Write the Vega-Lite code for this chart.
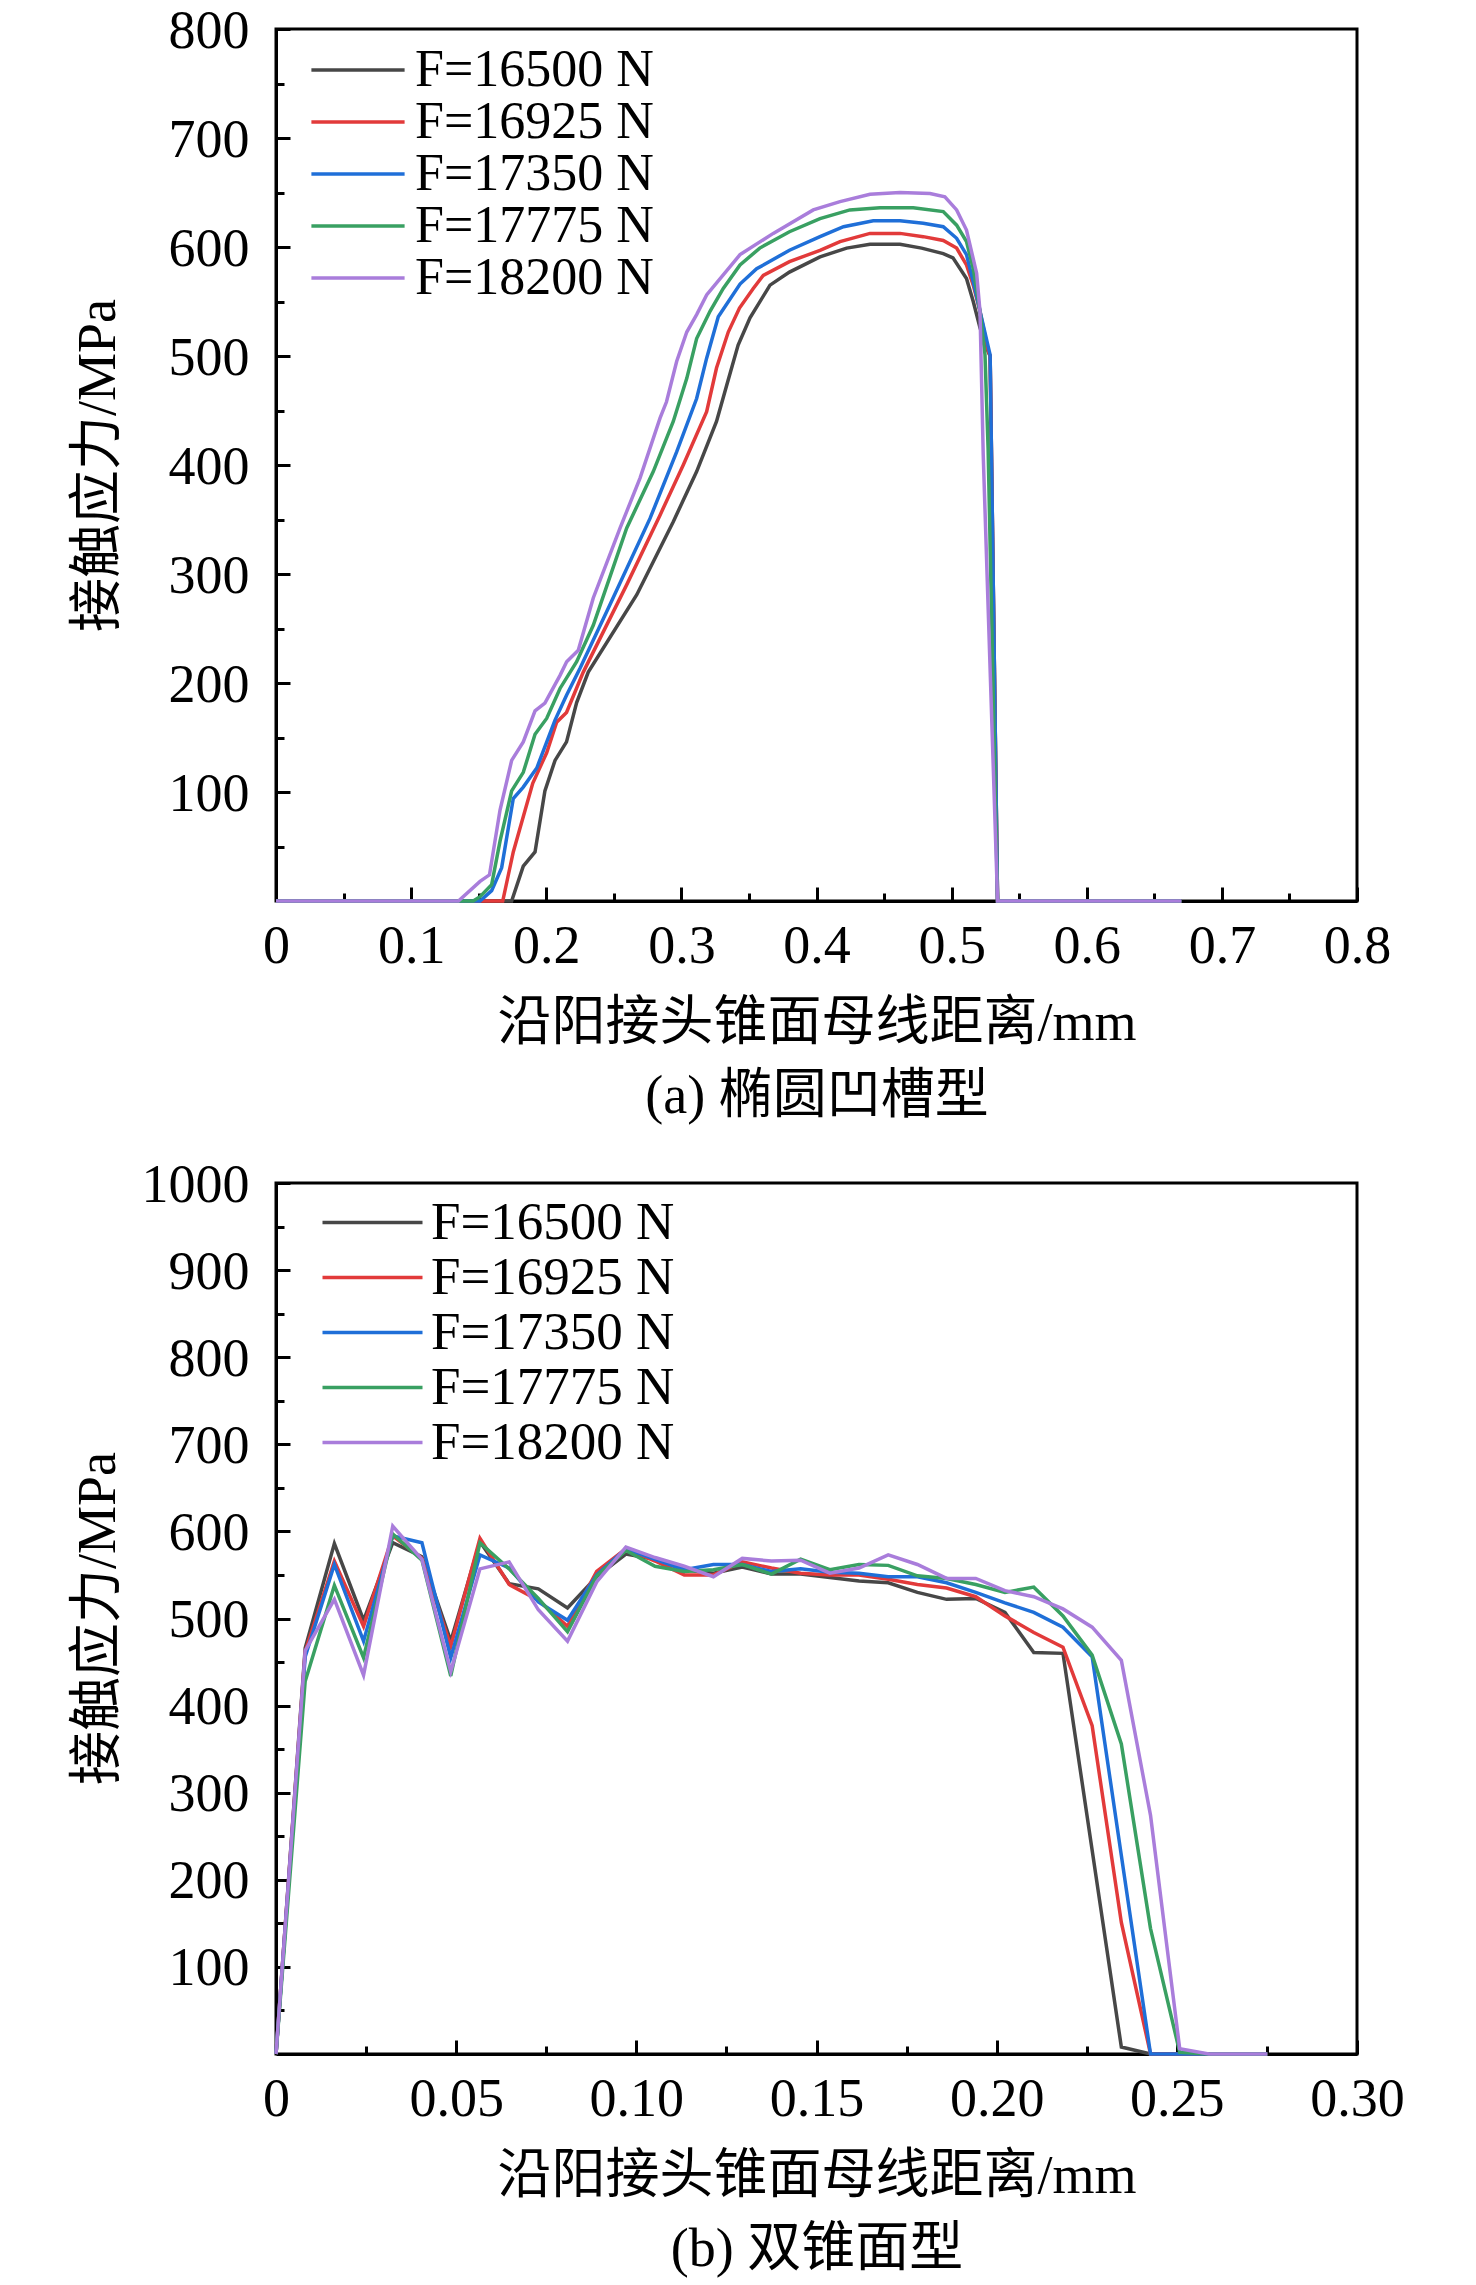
{
  "$schema": "https://vega.github.io/schema/vega-lite/v6.json",
  "padding": {"left": 69, "top": 2, "right": 20, "bottom": 0},
  "background": "white",
  "spacing": 31,
  "config": {
    "font": "Liberation Serif, Noto Sans CJK SC, serif",
    "view": {"stroke": "black", "strokeWidth": 3},
    "axis": {
      "domainColor": "black", "domainWidth": 3,
      "tickColor": "black", "tickWidth": 3,
      "grid": false,
      "labelFont": "Liberation Serif", "labelFontSize": 54, "labelColor": "black",
      "titleFont": "Liberation Serif, Noto Sans CJK SC", "titleFontSize": 54, "titleFontWeight": "normal", "titleColor": "black"
    },
    "legend": {
      "labelFont": "Liberation Serif", "labelFontSize": 54, "labelColor": "black", "labelLimit": 0, "labelOffset": 31,
      "symbolType": "M-2.33,0H2.33", "symbolStrokeWidth": 3.5, "symbolSize": 1600,
      "title": null, "padding": 0, "rowPadding": 0
    }
  },
  "datasets": {
    "a": [
      {"s":"F=16500 N","x":0,"y":0},{"s":"F=16500 N","x":0.1744,"y":0},{"s":"F=16500 N","x":0.183,"y":32},{"s":"F=16500 N","x":0.1917,"y":45},{"s":"F=16500 N","x":0.199,"y":101},{"s":"F=16500 N","x":0.2065,"y":129},{"s":"F=16500 N","x":0.215,"y":146},{"s":"F=16500 N","x":0.2225,"y":182},{"s":"F=16500 N","x":0.2311,"y":210},{"s":"F=16500 N","x":0.267,"y":281},{"s":"F=16500 N","x":0.294,"y":348},{"s":"F=16500 N","x":0.3113,"y":394},{"s":"F=16500 N","x":0.326,"y":440},{"s":"F=16500 N","x":0.3335,"y":473},{"s":"F=16500 N","x":0.342,"y":510},{"s":"F=16500 N","x":0.3508,"y":535},{"s":"F=16500 N","x":0.3656,"y":565},{"s":"F=16500 N","x":0.38,"y":577},{"s":"F=16500 N","x":0.4026,"y":591},{"s":"F=16500 N","x":0.4223,"y":599},{"s":"F=16500 N","x":0.4396,"y":602.5},{"s":"F=16500 N","x":0.4618,"y":602.5},{"s":"F=16500 N","x":0.4778,"y":599},{"s":"F=16500 N","x":0.4938,"y":594},{"s":"F=16500 N","x":0.501,"y":590},{"s":"F=16500 N","x":0.511,"y":571},{"s":"F=16500 N","x":0.516,"y":550},{"s":"F=16500 N","x":0.521,"y":526},{"s":"F=16500 N","x":0.527,"y":504},{"s":"F=16500 N","x":0.5285,"y":500},{"s":"F=16500 N","x":0.534,"y":0},{"s":"F=16500 N","x":0.67,"y":0},
      {"s":"F=16925 N","x":0,"y":0},{"s":"F=16925 N","x":0.1678,"y":0},{"s":"F=16925 N","x":0.1756,"y":45},{"s":"F=16925 N","x":0.19,"y":108},{"s":"F=16925 N","x":0.2003,"y":136},{"s":"F=16925 N","x":0.2077,"y":164},{"s":"F=16925 N","x":0.215,"y":173},{"s":"F=16925 N","x":0.2274,"y":210},{"s":"F=16925 N","x":0.2595,"y":290},{"s":"F=16925 N","x":0.2842,"y":354},{"s":"F=16925 N","x":0.3014,"y":400},{"s":"F=16925 N","x":0.3187,"y":449},{"s":"F=16925 N","x":0.326,"y":489},{"s":"F=16925 N","x":0.3347,"y":522},{"s":"F=16925 N","x":0.343,"y":544},{"s":"F=16925 N","x":0.3532,"y":562},{"s":"F=16925 N","x":0.3606,"y":574},{"s":"F=16925 N","x":0.38,"y":586.5},{"s":"F=16925 N","x":0.4026,"y":597},{"s":"F=16925 N","x":0.4174,"y":605},{"s":"F=16925 N","x":0.4396,"y":612.5},{"s":"F=16925 N","x":0.4618,"y":612.5},{"s":"F=16925 N","x":0.479,"y":609.5},{"s":"F=16925 N","x":0.4938,"y":606},{"s":"F=16925 N","x":0.5037,"y":599},{"s":"F=16925 N","x":0.511,"y":583.5},{"s":"F=16925 N","x":0.516,"y":565},{"s":"F=16925 N","x":0.521,"y":541},{"s":"F=16925 N","x":0.527,"y":505},{"s":"F=16925 N","x":0.5285,"y":500},{"s":"F=16925 N","x":0.534,"y":0},{"s":"F=16925 N","x":0.67,"y":0},
      {"s":"F=17350 N","x":0,"y":0},{"s":"F=17350 N","x":0.151,"y":0},{"s":"F=17350 N","x":0.1596,"y":9.5},{"s":"F=17350 N","x":0.167,"y":30.6},{"s":"F=17350 N","x":0.1756,"y":94},{"s":"F=17350 N","x":0.183,"y":104.5},{"s":"F=17350 N","x":0.193,"y":122},{"s":"F=17350 N","x":0.2065,"y":166},{"s":"F=17350 N","x":0.2151,"y":189},{"s":"F=17350 N","x":0.225,"y":213.5},{"s":"F=17350 N","x":0.2472,"y":272},{"s":"F=17350 N","x":0.2768,"y":351},{"s":"F=17350 N","x":0.2965,"y":412},{"s":"F=17350 N","x":0.3113,"y":461},{"s":"F=17350 N","x":0.3187,"y":498},{"s":"F=17350 N","x":0.3273,"y":536},{"s":"F=17350 N","x":0.3434,"y":566},{"s":"F=17350 N","x":0.3557,"y":580},{"s":"F=17350 N","x":0.38,"y":597},{"s":"F=17350 N","x":0.4026,"y":609.5},{"s":"F=17350 N","x":0.42,"y":618.6},{"s":"F=17350 N","x":0.442,"y":624},{"s":"F=17350 N","x":0.4618,"y":624},{"s":"F=17350 N","x":0.479,"y":621.7},{"s":"F=17350 N","x":0.4938,"y":618.6},{"s":"F=17350 N","x":0.5037,"y":608},{"s":"F=17350 N","x":0.511,"y":593},{"s":"F=17350 N","x":0.516,"y":568},{"s":"F=17350 N","x":0.5285,"y":501},{"s":"F=17350 N","x":0.534,"y":0},{"s":"F=17350 N","x":0.67,"y":0},
      {"s":"F=17775 N","x":0,"y":0},{"s":"F=17775 N","x":0.146,"y":0},{"s":"F=17775 N","x":0.151,"y":4},{"s":"F=17775 N","x":0.1596,"y":15},{"s":"F=17775 N","x":0.1658,"y":55},{"s":"F=17775 N","x":0.1744,"y":101},{"s":"F=17775 N","x":0.183,"y":118},{"s":"F=17775 N","x":0.1917,"y":153},{"s":"F=17775 N","x":0.2003,"y":167.5},{"s":"F=17775 N","x":0.2102,"y":195},{"s":"F=17775 N","x":0.2225,"y":219.5},{"s":"F=17775 N","x":0.2348,"y":253},{"s":"F=17775 N","x":0.2595,"y":342},{"s":"F=17775 N","x":0.2792,"y":394},{"s":"F=17775 N","x":0.294,"y":440},{"s":"F=17775 N","x":0.304,"y":479.5},{"s":"F=17775 N","x":0.3113,"y":516},{"s":"F=17775 N","x":0.3212,"y":541},{"s":"F=17775 N","x":0.331,"y":562},{"s":"F=17775 N","x":0.3434,"y":583.5},{"s":"F=17775 N","x":0.358,"y":599},{"s":"F=17775 N","x":0.38,"y":614},{"s":"F=17775 N","x":0.4026,"y":626},{"s":"F=17775 N","x":0.4247,"y":634},{"s":"F=17775 N","x":0.447,"y":636},{"s":"F=17775 N","x":0.4716,"y":636},{"s":"F=17775 N","x":0.4938,"y":632.5},{"s":"F=17775 N","x":0.5037,"y":620},{"s":"F=17775 N","x":0.511,"y":605},{"s":"F=17775 N","x":0.516,"y":580},{"s":"F=17775 N","x":0.521,"y":541},{"s":"F=17775 N","x":0.5247,"y":501},{"s":"F=17775 N","x":0.527,"y":415},{"s":"F=17775 N","x":0.534,"y":0},{"s":"F=17775 N","x":0.67,"y":0},
      {"s":"F=18200 N","x":0,"y":0},{"s":"F=18200 N","x":0.135,"y":0},{"s":"F=18200 N","x":0.151,"y":18},{"s":"F=18200 N","x":0.158,"y":24},{"s":"F=18200 N","x":0.1658,"y":83.5},{"s":"F=18200 N","x":0.1744,"y":129},{"s":"F=18200 N","x":0.183,"y":146},{"s":"F=18200 N","x":0.1917,"y":174.5},{"s":"F=18200 N","x":0.199,"y":181.6},{"s":"F=18200 N","x":0.2102,"y":207},{"s":"F=18200 N","x":0.2151,"y":219.5},{"s":"F=18200 N","x":0.2237,"y":230},{"s":"F=18200 N","x":0.2348,"y":278},{"s":"F=18200 N","x":0.2546,"y":342},{"s":"F=18200 N","x":0.2694,"y":388},{"s":"F=18200 N","x":0.2842,"y":443},{"s":"F=18200 N","x":0.289,"y":458},{"s":"F=18200 N","x":0.2965,"y":495},{"s":"F=18200 N","x":0.304,"y":522},{"s":"F=18200 N","x":0.3113,"y":538},{"s":"F=18200 N","x":0.3187,"y":556},{"s":"F=18200 N","x":0.3434,"y":593},{"s":"F=18200 N","x":0.368,"y":612.5},{"s":"F=18200 N","x":0.3976,"y":634},{"s":"F=18200 N","x":0.4174,"y":641.6},{"s":"F=18200 N","x":0.4396,"y":648.4},{"s":"F=18200 N","x":0.4618,"y":650},{"s":"F=18200 N","x":0.484,"y":649},{"s":"F=18200 N","x":0.495,"y":646},{"s":"F=18200 N","x":0.5037,"y":634},{"s":"F=18200 N","x":0.511,"y":615.6},{"s":"F=18200 N","x":0.5185,"y":576},{"s":"F=18200 N","x":0.521,"y":541},{"s":"F=18200 N","x":0.5234,"y":409},{"s":"F=18200 N","x":0.534,"y":0},{"s":"F=18200 N","x":0.67,"y":0}
    ],
    "b": [
      {"s":"F=16500 N","x":0,"y":0},{"s":"F=16500 N","x":0.0081,"y":466},{"s":"F=16500 N","x":0.0162,"y":586},{"s":"F=16500 N","x":0.0243,"y":498},{"s":"F=16500 N","x":0.0324,"y":587},{"s":"F=16500 N","x":0.0405,"y":571},{"s":"F=16500 N","x":0.0485,"y":474},{"s":"F=16500 N","x":0.0566,"y":588},{"s":"F=16500 N","x":0.0647,"y":540},{"s":"F=16500 N","x":0.0728,"y":534},{"s":"F=16500 N","x":0.0809,"y":512},{"s":"F=16500 N","x":0.089,"y":548},{"s":"F=16500 N","x":0.0971,"y":574},{"s":"F=16500 N","x":0.1052,"y":568},{"s":"F=16500 N","x":0.1133,"y":556},{"s":"F=16500 N","x":0.1214,"y":552},{"s":"F=16500 N","x":0.1294,"y":559},{"s":"F=16500 N","x":0.1375,"y":551},{"s":"F=16500 N","x":0.1456,"y":551},{"s":"F=16500 N","x":0.1537,"y":547},{"s":"F=16500 N","x":0.1618,"y":543},{"s":"F=16500 N","x":0.1699,"y":541},{"s":"F=16500 N","x":0.178,"y":530},{"s":"F=16500 N","x":0.1861,"y":522},{"s":"F=16500 N","x":0.1942,"y":523},{"s":"F=16500 N","x":0.2023,"y":507},{"s":"F=16500 N","x":0.2103,"y":461},{"s":"F=16500 N","x":0.2184,"y":460},{"s":"F=16500 N","x":0.2265,"y":234},{"s":"F=16500 N","x":0.2346,"y":8},{"s":"F=16500 N","x":0.2427,"y":0},{"s":"F=16500 N","x":0.2508,"y":0},{"s":"F=16500 N","x":0.2589,"y":0},{"s":"F=16500 N","x":0.267,"y":0},{"s":"F=16500 N","x":0.2751,"y":0},
      {"s":"F=16925 N","x":0,"y":0},{"s":"F=16925 N","x":0.0081,"y":462},{"s":"F=16925 N","x":0.0162,"y":566},{"s":"F=16925 N","x":0.0243,"y":491},{"s":"F=16925 N","x":0.0324,"y":595},{"s":"F=16925 N","x":0.0405,"y":569},{"s":"F=16925 N","x":0.0485,"y":468},{"s":"F=16925 N","x":0.0566,"y":592},{"s":"F=16925 N","x":0.0647,"y":539},{"s":"F=16925 N","x":0.0728,"y":521},{"s":"F=16925 N","x":0.0809,"y":491},{"s":"F=16925 N","x":0.089,"y":554},{"s":"F=16925 N","x":0.0971,"y":580},{"s":"F=16925 N","x":0.1052,"y":566},{"s":"F=16925 N","x":0.1133,"y":550},{"s":"F=16925 N","x":0.1214,"y":550},{"s":"F=16925 N","x":0.1294,"y":565},{"s":"F=16925 N","x":0.1375,"y":558},{"s":"F=16925 N","x":0.1456,"y":552},{"s":"F=16925 N","x":0.1537,"y":550},{"s":"F=16925 N","x":0.1618,"y":550},{"s":"F=16925 N","x":0.1699,"y":545},{"s":"F=16925 N","x":0.178,"y":539},{"s":"F=16925 N","x":0.1861,"y":535},{"s":"F=16925 N","x":0.1942,"y":525},{"s":"F=16925 N","x":0.2023,"y":503},{"s":"F=16925 N","x":0.2103,"y":484},{"s":"F=16925 N","x":0.2184,"y":467},{"s":"F=16925 N","x":0.2265,"y":377},{"s":"F=16925 N","x":0.2346,"y":151},{"s":"F=16925 N","x":0.2427,"y":0},{"s":"F=16925 N","x":0.2508,"y":0},{"s":"F=16925 N","x":0.2589,"y":0},{"s":"F=16925 N","x":0.267,"y":0},{"s":"F=16925 N","x":0.2751,"y":0},
      {"s":"F=17350 N","x":0,"y":0},{"s":"F=17350 N","x":0.0081,"y":456},{"s":"F=17350 N","x":0.0162,"y":562},{"s":"F=17350 N","x":0.0243,"y":474},{"s":"F=17350 N","x":0.0324,"y":595},{"s":"F=17350 N","x":0.0405,"y":587},{"s":"F=17350 N","x":0.0485,"y":455},{"s":"F=17350 N","x":0.0566,"y":573},{"s":"F=17350 N","x":0.0647,"y":558},{"s":"F=17350 N","x":0.0728,"y":519},{"s":"F=17350 N","x":0.0809,"y":498},{"s":"F=17350 N","x":0.089,"y":550},{"s":"F=17350 N","x":0.0971,"y":580},{"s":"F=17350 N","x":0.1052,"y":568},{"s":"F=17350 N","x":0.1133,"y":556},{"s":"F=17350 N","x":0.1214,"y":562},{"s":"F=17350 N","x":0.1294,"y":562},{"s":"F=17350 N","x":0.1375,"y":554},{"s":"F=17350 N","x":0.1456,"y":557},{"s":"F=17350 N","x":0.1537,"y":553},{"s":"F=17350 N","x":0.1618,"y":552},{"s":"F=17350 N","x":0.1699,"y":548},{"s":"F=17350 N","x":0.178,"y":548},{"s":"F=17350 N","x":0.1861,"y":541},{"s":"F=17350 N","x":0.1942,"y":530},{"s":"F=17350 N","x":0.2023,"y":518},{"s":"F=17350 N","x":0.2103,"y":507},{"s":"F=17350 N","x":0.2184,"y":490},{"s":"F=17350 N","x":0.2265,"y":456},{"s":"F=17350 N","x":0.2346,"y":228},{"s":"F=17350 N","x":0.2427,"y":0},{"s":"F=17350 N","x":0.2508,"y":0},{"s":"F=17350 N","x":0.2589,"y":0},{"s":"F=17350 N","x":0.267,"y":0},{"s":"F=17350 N","x":0.2751,"y":0},
      {"s":"F=17775 N","x":0,"y":0},{"s":"F=17775 N","x":0.0081,"y":428},{"s":"F=17775 N","x":0.0162,"y":538},{"s":"F=17775 N","x":0.0243,"y":455},{"s":"F=17775 N","x":0.0324,"y":597},{"s":"F=17775 N","x":0.0405,"y":567},{"s":"F=17775 N","x":0.0485,"y":434},{"s":"F=17775 N","x":0.0566,"y":587},{"s":"F=17775 N","x":0.0647,"y":557},{"s":"F=17775 N","x":0.0728,"y":523},{"s":"F=17775 N","x":0.0809,"y":485},{"s":"F=17775 N","x":0.089,"y":549},{"s":"F=17775 N","x":0.0971,"y":578},{"s":"F=17775 N","x":0.1052,"y":560},{"s":"F=17775 N","x":0.1133,"y":554},{"s":"F=17775 N","x":0.1214,"y":556},{"s":"F=17775 N","x":0.1294,"y":562},{"s":"F=17775 N","x":0.1375,"y":551},{"s":"F=17775 N","x":0.1456,"y":568},{"s":"F=17775 N","x":0.1537,"y":556},{"s":"F=17775 N","x":0.1618,"y":562},{"s":"F=17775 N","x":0.1699,"y":561},{"s":"F=17775 N","x":0.178,"y":549},{"s":"F=17775 N","x":0.1861,"y":546},{"s":"F=17775 N","x":0.1942,"y":539},{"s":"F=17775 N","x":0.2023,"y":530},{"s":"F=17775 N","x":0.2103,"y":536},{"s":"F=17775 N","x":0.2184,"y":503},{"s":"F=17775 N","x":0.2265,"y":458},{"s":"F=17775 N","x":0.2346,"y":356},{"s":"F=17775 N","x":0.2427,"y":144},{"s":"F=17775 N","x":0.2508,"y":2},{"s":"F=17775 N","x":0.2589,"y":0},{"s":"F=17775 N","x":0.267,"y":0},{"s":"F=17775 N","x":0.2751,"y":0},
      {"s":"F=18200 N","x":0,"y":0},{"s":"F=18200 N","x":0.0081,"y":463},{"s":"F=18200 N","x":0.0162,"y":522},{"s":"F=18200 N","x":0.0243,"y":435},{"s":"F=18200 N","x":0.0324,"y":606},{"s":"F=18200 N","x":0.0405,"y":568},{"s":"F=18200 N","x":0.0485,"y":439},{"s":"F=18200 N","x":0.0566,"y":557},{"s":"F=18200 N","x":0.0647,"y":565},{"s":"F=18200 N","x":0.0728,"y":510},{"s":"F=18200 N","x":0.0809,"y":474},{"s":"F=18200 N","x":0.089,"y":542},{"s":"F=18200 N","x":0.0971,"y":582},{"s":"F=18200 N","x":0.1052,"y":570},{"s":"F=18200 N","x":0.1133,"y":560},{"s":"F=18200 N","x":0.1214,"y":548},{"s":"F=18200 N","x":0.1294,"y":569},{"s":"F=18200 N","x":0.1375,"y":566},{"s":"F=18200 N","x":0.1456,"y":567},{"s":"F=18200 N","x":0.1537,"y":552},{"s":"F=18200 N","x":0.1618,"y":558},{"s":"F=18200 N","x":0.1699,"y":573},{"s":"F=18200 N","x":0.178,"y":562},{"s":"F=18200 N","x":0.1861,"y":546},{"s":"F=18200 N","x":0.1942,"y":546},{"s":"F=18200 N","x":0.2023,"y":532},{"s":"F=18200 N","x":0.2103,"y":525},{"s":"F=18200 N","x":0.2184,"y":511},{"s":"F=18200 N","x":0.2265,"y":490},{"s":"F=18200 N","x":0.2346,"y":452},{"s":"F=18200 N","x":0.2427,"y":274},{"s":"F=18200 N","x":0.2508,"y":6},{"s":"F=18200 N","x":0.2589,"y":0},{"s":"F=18200 N","x":0.267,"y":0},{"s":"F=18200 N","x":0.2751,"y":0}
    ]
  },
  "resolve": {"legend": {"color": "independent"}},
  "vconcat": [
    {
      "width": 1081, "height": 872,
      "data": {"name": "a"},
      "mark": {"type": "line", "strokeWidth": 3.5},
      "encoding": {
        "x": {"field": "x", "type": "quantitative",
          "scale": {"domain": [0, 0.8], "nice": false, "zero": false},
          "axis": {
            "values": [0,0.05,0.1,0.15,0.2,0.25,0.3,0.35,0.4,0.45,0.5,0.55,0.6,0.65,0.7,0.75,0.8],
            "labelExpr": "abs(datum.value*10 - round(datum.value*10)) < 0.000001 ? (datum.value == 0 ? '0' : format(datum.value, '.1f')) : ''",
            "tickSize": {"condition": {"test": "abs(datum.value*10 - round(datum.value*10)) < 0.000001", "value": -14}, "value": -8},
            "labelPadding": 32, "labelFlush": false, "labelOverlap": false,
            "title": ["沿阳接头锥面母线距离/mm", "(a) 椭圆凹槽型"],
            "titlePadding": 17, "titleLineHeight": 73
          }
        },
        "y": {"field": "y", "type": "quantitative",
          "scale": {"domain": [0, 800], "nice": false},
          "axis": {
            "values": [50,100,150,200,250,300,350,400,450,500,550,600,650,700,750,800],
            "labelExpr": "datum.value % 100 == 0 ? datum.value : ''",
            "tickSize": {"condition": {"test": "datum.value % 100 == 0", "value": -14}, "value": -8},
            "labelPadding": 41, "labelOffset": 2, "labelFlush": false, "labelOverlap": false,
            "title": "接触应力/MPa",
            "titleX": -178, "titleY": 436, "titleAngle": -90, "titleAlign": "center", "titleBaseline": "middle"
          }
        },
        "color": {"field": "s", "type": "nominal",
          "scale": {"domain": ["F=16500 N","F=16925 N","F=17350 N","F=17775 N","F=18200 N"],
                    "range": ["#474747","#e23a3a","#1f6fd8","#39a062","#a97ddb"]},
          "legend": {"orient": "none", "legendX": 56, "legendY": 15, "labelFontSize": 52, "labelOffset": 31}
        }
      }
    },
    {
      "width": 1081, "height": 871,
      "data": {"name": "b"},
      "mark": {"type": "line", "strokeWidth": 3.5},
      "encoding": {
        "x": {"field": "x", "type": "quantitative",
          "scale": {"domain": [0, 0.3], "nice": false, "zero": false},
          "axis": {
            "values": [0,0.025,0.05,0.075,0.1,0.125,0.15,0.175,0.2,0.225,0.25,0.275,0.3],
            "labelExpr": "abs(datum.value*20 - round(datum.value*20)) < 0.000001 ? (datum.value == 0 ? '0' : format(datum.value, '.2f')) : ''",
            "tickSize": {"condition": {"test": "abs(datum.value*20 - round(datum.value*20)) < 0.000001", "value": -14}, "value": -8},
            "labelPadding": 32, "labelFlush": false, "labelOverlap": false,
            "title": ["沿阳接头锥面母线距离/mm", "(b) 双锥面型"],
            "titlePadding": 17, "titleLineHeight": 73
          }
        },
        "y": {"field": "y", "type": "quantitative",
          "scale": {"domain": [0, 1000], "nice": false},
          "axis": {
            "values": [50,100,150,200,250,300,350,400,450,500,550,600,650,700,750,800,850,900,950,1000],
            "labelExpr": "datum.value % 100 == 0 ? datum.value : ''",
            "tickSize": {"condition": {"test": "datum.value % 100 == 0", "value": -14}, "value": -8},
            "labelPadding": 41, "labelOffset": 2, "labelFlush": false, "labelOverlap": false,
            "title": "接触应力/MPa",
            "titleX": -178, "titleY": 435, "titleAngle": -90, "titleAlign": "center", "titleBaseline": "middle"
          }
        },
        "color": {"field": "s", "type": "nominal",
          "scale": {"domain": ["F=16500 N","F=16925 N","F=17350 N","F=17775 N","F=18200 N"],
                    "range": ["#474747","#e23a3a","#1f6fd8","#39a062","#a97ddb"]},
          "legend": {"orient": "none", "legendX": 70, "legendY": 13, "symbolType": "M-2.5,0H2.5", "labelFontSize": 53, "rowPadding": 1, "labelOffset": 32}
        }
      }
    }
  ]
}
